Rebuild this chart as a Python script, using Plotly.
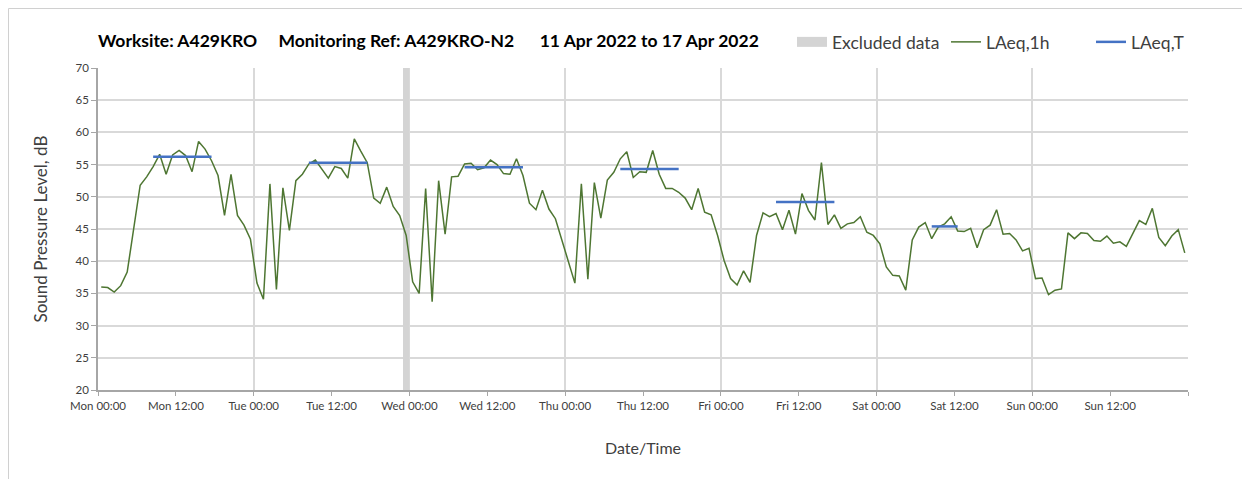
import plotly.graph_objects as go

# Hourly LAeq,1h values (dB), Mon 11 Apr 00:00 .. Sun 17 Apr 23:00
mon = [36.0, 35.9, 35.2, 36.2, 38.3, 45.0, 51.8, 53.1, 54.7, 56.6, 53.5, 56.5,
       57.2, 56.4, 53.9, 58.6, 57.4, 55.6, 53.3, 47.1, 53.5, 47.1, 45.6, 43.4]
tue = [36.6, 34.1, 52.0, 35.6, 51.4, 44.8, 52.5, 53.5, 55.1, 55.7, 54.3, 52.9,
       54.7, 54.4, 52.9, 59.0, 57.1, 55.3, 49.8, 49.0, 51.5, 48.5, 47.1, 44.0]
wed = [36.8, 35.0, 51.3, 33.7, 52.5, 44.2, 53.1, 53.2, 55.1, 55.2, 54.2, 54.5,
       55.7, 55.0, 53.6, 53.5, 55.9, 53.3, 49.0, 48.0, 51.0, 48.1, 46.6, 43.3]
thu = [39.7, 36.6, 52.0, 37.2, 52.2, 46.7, 52.6, 53.8, 55.9, 57.0, 53.0, 53.9,
       53.8, 57.2, 53.5, 51.3, 51.3, 50.7, 49.8, 48.0, 51.3, 47.6, 47.2, 44.0]
fri = [40.1, 37.3, 36.3, 38.5, 36.7, 44.0, 47.5, 46.9, 47.4, 44.9, 47.9, 44.2,
       50.5, 47.9, 46.4, 55.3, 45.7, 47.2, 45.1, 45.8, 46.0, 46.9, 44.5, 44.0]
sat = [42.7, 39.1, 37.8, 37.7, 35.5, 43.3, 45.3, 46.0, 43.5, 45.3, 45.8, 46.9,
       44.7, 44.6, 45.1, 42.1, 44.9, 45.6, 48.0, 44.2, 44.3, 43.3, 41.6, 42.0]
sun = [37.3, 37.4, 34.8, 35.5, 35.7, 44.4, 43.5, 44.4, 44.3, 43.2, 43.1, 43.9,
       42.8, 43.0, 42.3, 44.2, 46.3, 45.7, 48.2, 43.7, 42.4, 43.9, 44.9, 41.3]
laeq_1h = mon + tue + wed + thu + fri + sat + sun

# LAeq,T daytime averages: (day index, first hour, last hour, level)
laeq_t_day = [0, 1, 2, 3, 4, 5]
laeq_t_start = [8, 8, 8, 8, 8, 8]
laeq_t_end = [17, 17, 17, 17, 17, 12]
laeq_t_level = [56.2, 55.3, 54.6, 54.3, 49.2, 45.4]

# Excluded data period (hours from start)
excl_start = [47]
excl_end = [48]

tick_hours = list(range(0, 169, 12))
tick_text = ["Mon 00:00", "Mon 12:00", "Tue 00:00", "Tue 12:00", "Wed 00:00",
             "Wed 12:00", "Thu 00:00", "Thu 12:00", "Fri 00:00", "Fri 12:00",
             "Sat 00:00", "Sat 12:00", "Sun 00:00", "Sun 12:00", ""]
day_lines = list(range(0, 169, 24))

FONT = "Lato"
GREEN = "#4E7632"
BLUE = "#4472C4"
GREY_BAND = "#D4D4D4"

# page body adds an 8px offset; figure sized so the plot lands where the original is
W, H = 1242, 471
L, T, PW, PH = 90, 60, 1090, 322


def legend_at(px):
    # horizontal position (screen px) of a legend box -> paper coords
    return dict(
        orientation="h", xanchor="left", x=(px - 8 - L) / PW,
        yanchor="middle", y=1 + (68 - 42) / PH,
        font=dict(family=FONT, size=17.5, color="#404040"),
        bgcolor="rgba(0,0,0,0)",
    )


fig = go.Figure()

# excluded data band
fig.add_trace(go.Bar(
    x=[(s + e) / 2 for s, e in zip(excl_start, excl_end)],
    y=[50] * len(excl_start), base=[20] * len(excl_start),
    width=[e - s for s, e in zip(excl_start, excl_end)],
    marker=dict(color=GREY_BAND, line_width=0),
    name="Excluded data", showlegend=False,
))
# legend key for the band (wide grey block like the original)
fig.add_trace(go.Scatter(
    x=[None], y=[None], mode="lines",
    line=dict(color=GREY_BAND, width=10),
    name="Excluded data", legend="legend",
))

# hourly levels, plotted at the centre of each hour
fig.add_trace(go.Scatter(
    x=[h + 0.5 for h in range(len(laeq_1h))], y=laeq_1h,
    mode="lines", line=dict(color=GREEN, width=1.5),
    name="LAeq,1h", legend="legend2",
))

# daytime LAeq,T segments
for i, (d, s, e, lv) in enumerate(zip(laeq_t_day, laeq_t_start, laeq_t_end, laeq_t_level)):
    fig.add_trace(go.Scatter(
        x=[d * 24 + s + 0.5, d * 24 + e + 0.5], y=[lv, lv],
        mode="lines", line=dict(color=BLUE, width=2.5),
        name="LAeq,T", legend="legend3", showlegend=(i == 0),
    ))

# outer frame of the chart
fig.add_shape(type="rect", xref="paper", yref="paper",
              x0=(0.5 - L) / PW, x1=(W - 1 - L) / PW,
              y0=-(H + 10 - T - PH) / PH, y1=1 + (T - 0.5) / PH,
              line=dict(color="#D0D0D0", width=1), layer="below")

fig.update_layout(
    width=W, height=H,
    margin=dict(l=L, r=W - L - PW, t=T, b=H - T - PH, autoexpand=False),
    paper_bgcolor="white", plot_bgcolor="white",
    font=dict(family=FONT, size=12, color="#404040"),
    title=dict(
        text="<b>Worksite: A429KRO&nbsp;&nbsp;&nbsp;&nbsp;&nbsp;Monitoring Ref: A429KRO-N2"
             "&nbsp;&nbsp;&nbsp;&nbsp;&nbsp;&nbsp;11 Apr 2022 to 17 Apr 2022</b>",
        xref="paper", x=0, xanchor="left",
        yref="container", y=1 - 33 / H, yanchor="middle",
        font=dict(family=FONT, size=17.5, color="#000000"),
    ),
    legend=legend_at(792),
    legend2=legend_at(946),
    legend3=legend_at(1091),
    showlegend=True,
    bargap=0,
    xaxis=dict(
        range=[0, 168], automargin=False,
        tickmode="array", tickvals=tick_hours, ticktext=tick_text,
        ticks="outside", ticklen=4, tickcolor="#A6A6A6",
        tickfont=dict(size=11.5, color="#404040"),
        showgrid=False, zeroline=False,
        showline=True, linecolor="#A6A6A6", linewidth=1.5,
        minor=dict(tickvals=day_lines, showgrid=True, gridcolor="#D9D9D9",
                   gridwidth=1.5, ticklen=0),
        title=dict(text="Date/Time", font=dict(size=16, color="#404040"), standoff=32),
    ),
    yaxis=dict(
        range=[20, 70], dtick=5, tick0=20, automargin=False,
        ticks="outside", ticklen=5, tickcolor="#A6A6A6",
        tickfont=dict(size=11.5, color="#404040"),
        showgrid=True, gridcolor="#D9D9D9", gridwidth=1.5,
        zeroline=False, showline=True, linecolor="#A6A6A6", linewidth=1.5,
        title=dict(text="Sound Pressure Level, dB", font=dict(size=17, color="#404040"),
                   standoff=24),
    ),
)

fig.write_html("out.html")
